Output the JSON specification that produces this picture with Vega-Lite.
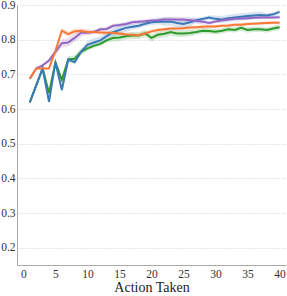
{
  "$schema": "https://vega.github.io/schema/vega-lite/v6.json",
  "width": 269,
  "height": 260,
  "autosize": {"type": "none"},
  "padding": {"left": 17, "top": 5, "right": 1, "bottom": 31},
  "background": "white",
  "config": {
    "view": {"stroke": null},
    "font": "Liberation Serif",
    "axis": {"labelFont": "Liberation Serif", "titleFont": "Liberation Serif", "labelColor": "#333", "titleColor": "#222", "domainColor": "#aaa", "ticks": false, "labelFontSize": 11.5, "labelOverlap": false, "labelBound": false, "labelFlush": false}
  },
  "data": {"values": [
    {"x":1,"s":"a","v":0.619,"lo":0.615,"hi":0.623},{"x":2,"s":"a","v":0.668,"lo":0.664,"hi":0.672},{"x":3,"s":"a","v":0.717,"lo":0.713,"hi":0.721},{"x":4,"s":"a","v":0.646,"lo":0.642,"hi":0.650},{"x":5,"s":"a","v":0.735,"lo":0.731,"hi":0.739},{"x":6,"s":"a","v":0.684,"lo":0.680,"hi":0.688},{"x":7,"s":"a","v":0.743,"lo":0.733,"hi":0.753},{"x":8,"s":"a","v":0.745,"lo":0.735,"hi":0.755},{"x":9,"s":"a","v":0.765,"lo":0.755,"hi":0.775},{"x":10,"s":"a","v":0.775,"lo":0.769,"hi":0.781},
    {"x":11,"s":"a","v":0.782,"lo":0.776,"hi":0.788},{"x":12,"s":"a","v":0.788,"lo":0.782,"hi":0.794},{"x":13,"s":"a","v":0.798,"lo":0.792,"hi":0.804},{"x":14,"s":"a","v":0.805,"lo":0.795,"hi":0.815},{"x":15,"s":"a","v":0.806,"lo":0.796,"hi":0.816},{"x":16,"s":"a","v":0.810,"lo":0.800,"hi":0.820},{"x":17,"s":"a","v":0.812,"lo":0.802,"hi":0.822},{"x":18,"s":"a","v":0.812,"lo":0.802,"hi":0.822},{"x":19,"s":"a","v":0.818,"lo":0.808,"hi":0.828},{"x":20,"s":"a","v":0.805,"lo":0.795,"hi":0.815},
    {"x":21,"s":"a","v":0.814,"lo":0.804,"hi":0.824},{"x":22,"s":"a","v":0.817,"lo":0.807,"hi":0.827},{"x":23,"s":"a","v":0.822,"lo":0.812,"hi":0.832},{"x":24,"s":"a","v":0.818,"lo":0.808,"hi":0.828},{"x":25,"s":"a","v":0.818,"lo":0.808,"hi":0.828},{"x":26,"s":"a","v":0.819,"lo":0.809,"hi":0.829},{"x":27,"s":"a","v":0.822,"lo":0.814,"hi":0.830},{"x":28,"s":"a","v":0.826,"lo":0.818,"hi":0.834},{"x":29,"s":"a","v":0.825,"lo":0.817,"hi":0.833},{"x":30,"s":"a","v":0.823,"lo":0.815,"hi":0.831},
    {"x":31,"s":"a","v":0.826,"lo":0.818,"hi":0.834},{"x":32,"s":"a","v":0.830,"lo":0.822,"hi":0.838},{"x":33,"s":"a","v":0.828,"lo":0.820,"hi":0.836},{"x":34,"s":"a","v":0.834,"lo":0.826,"hi":0.842},{"x":35,"s":"a","v":0.828,"lo":0.820,"hi":0.836},{"x":36,"s":"a","v":0.830,"lo":0.822,"hi":0.838},{"x":37,"s":"a","v":0.830,"lo":0.822,"hi":0.838},{"x":38,"s":"a","v":0.828,"lo":0.820,"hi":0.836},{"x":39,"s":"a","v":0.832,"lo":0.824,"hi":0.840},{"x":40,"s":"a","v":0.836,"lo":0.828,"hi":0.844},
    {"x":1,"s":"b","v":0.619,"lo":0.616,"hi":0.622},{"x":2,"s":"b","v":0.668,"lo":0.665,"hi":0.671},{"x":3,"s":"b","v":0.717,"lo":0.714,"hi":0.720},{"x":4,"s":"b","v":0.621,"lo":0.618,"hi":0.624},{"x":5,"s":"b","v":0.735,"lo":0.729,"hi":0.741},{"x":6,"s":"b","v":0.655,"lo":0.649,"hi":0.661},{"x":7,"s":"b","v":0.743,"lo":0.737,"hi":0.749},{"x":8,"s":"b","v":0.735,"lo":0.729,"hi":0.741},{"x":9,"s":"b","v":0.765,"lo":0.759,"hi":0.771},{"x":10,"s":"b","v":0.785,"lo":0.773,"hi":0.797},
    {"x":11,"s":"b","v":0.792,"lo":0.780,"hi":0.804},{"x":12,"s":"b","v":0.798,"lo":0.786,"hi":0.810},{"x":13,"s":"b","v":0.810,"lo":0.798,"hi":0.822},{"x":14,"s":"b","v":0.822,"lo":0.810,"hi":0.834},{"x":15,"s":"b","v":0.828,"lo":0.816,"hi":0.840},{"x":16,"s":"b","v":0.834,"lo":0.822,"hi":0.846},{"x":17,"s":"b","v":0.837,"lo":0.829,"hi":0.845},{"x":18,"s":"b","v":0.840,"lo":0.832,"hi":0.848},{"x":19,"s":"b","v":0.846,"lo":0.838,"hi":0.854},{"x":20,"s":"b","v":0.850,"lo":0.842,"hi":0.858},
    {"x":21,"s":"b","v":0.852,"lo":0.844,"hi":0.860},{"x":22,"s":"b","v":0.852,"lo":0.840,"hi":0.864},{"x":23,"s":"b","v":0.852,"lo":0.840,"hi":0.864},{"x":24,"s":"b","v":0.848,"lo":0.836,"hi":0.860},{"x":25,"s":"b","v":0.845,"lo":0.833,"hi":0.857},{"x":26,"s":"b","v":0.850,"lo":0.838,"hi":0.862},{"x":27,"s":"b","v":0.856,"lo":0.850,"hi":0.862},{"x":28,"s":"b","v":0.860,"lo":0.854,"hi":0.866},{"x":29,"s":"b","v":0.864,"lo":0.858,"hi":0.870},{"x":30,"s":"b","v":0.860,"lo":0.850,"hi":0.870},
    {"x":31,"s":"b","v":0.858,"lo":0.848,"hi":0.868},{"x":32,"s":"b","v":0.862,"lo":0.852,"hi":0.872},{"x":33,"s":"b","v":0.864,"lo":0.854,"hi":0.874},{"x":34,"s":"b","v":0.866,"lo":0.856,"hi":0.876},{"x":35,"s":"b","v":0.868,"lo":0.858,"hi":0.878},{"x":36,"s":"b","v":0.870,"lo":0.860,"hi":0.880},{"x":37,"s":"b","v":0.871,"lo":0.861,"hi":0.881},{"x":38,"s":"b","v":0.870,"lo":0.864,"hi":0.876},{"x":39,"s":"b","v":0.873,"lo":0.867,"hi":0.879},{"x":40,"s":"b","v":0.880,"lo":0.874,"hi":0.886},
    {"x":1,"s":"c","v":0.687,"lo":0.683,"hi":0.691},{"x":2,"s":"c","v":0.717,"lo":0.713,"hi":0.721},{"x":3,"s":"c","v":0.726,"lo":0.722,"hi":0.730},{"x":4,"s":"c","v":0.740,"lo":0.736,"hi":0.744},{"x":5,"s":"c","v":0.765,"lo":0.753,"hi":0.777},{"x":6,"s":"c","v":0.790,"lo":0.778,"hi":0.802},{"x":7,"s":"c","v":0.792,"lo":0.780,"hi":0.804},{"x":8,"s":"c","v":0.805,"lo":0.793,"hi":0.817},{"x":9,"s":"c","v":0.820,"lo":0.808,"hi":0.832},{"x":10,"s":"c","v":0.820,"lo":0.814,"hi":0.826},
    {"x":11,"s":"c","v":0.822,"lo":0.816,"hi":0.828},{"x":12,"s":"c","v":0.830,"lo":0.824,"hi":0.836},{"x":13,"s":"c","v":0.831,"lo":0.825,"hi":0.837},{"x":14,"s":"c","v":0.840,"lo":0.834,"hi":0.846},{"x":15,"s":"c","v":0.842,"lo":0.836,"hi":0.848},{"x":16,"s":"c","v":0.845,"lo":0.839,"hi":0.851},{"x":17,"s":"c","v":0.850,"lo":0.844,"hi":0.856},{"x":18,"s":"c","v":0.852,"lo":0.846,"hi":0.858},{"x":19,"s":"c","v":0.853,"lo":0.847,"hi":0.859},{"x":20,"s":"c","v":0.855,"lo":0.849,"hi":0.861},
    {"x":21,"s":"c","v":0.856,"lo":0.848,"hi":0.864},{"x":22,"s":"c","v":0.858,"lo":0.850,"hi":0.866},{"x":23,"s":"c","v":0.858,"lo":0.850,"hi":0.866},{"x":24,"s":"c","v":0.858,"lo":0.850,"hi":0.866},{"x":25,"s":"c","v":0.858,"lo":0.850,"hi":0.866},{"x":26,"s":"c","v":0.856,"lo":0.848,"hi":0.864},{"x":27,"s":"c","v":0.854,"lo":0.846,"hi":0.862},{"x":28,"s":"c","v":0.852,"lo":0.844,"hi":0.860},{"x":29,"s":"c","v":0.848,"lo":0.843,"hi":0.853},{"x":30,"s":"c","v":0.852,"lo":0.847,"hi":0.857},
    {"x":31,"s":"c","v":0.856,"lo":0.851,"hi":0.861},{"x":32,"s":"c","v":0.858,"lo":0.853,"hi":0.863},{"x":33,"s":"c","v":0.860,"lo":0.855,"hi":0.865},{"x":34,"s":"c","v":0.861,"lo":0.856,"hi":0.866},{"x":35,"s":"c","v":0.862,"lo":0.857,"hi":0.867},{"x":36,"s":"c","v":0.863,"lo":0.858,"hi":0.868},{"x":37,"s":"c","v":0.864,"lo":0.859,"hi":0.869},{"x":38,"s":"c","v":0.864,"lo":0.859,"hi":0.869},{"x":39,"s":"c","v":0.864,"lo":0.859,"hi":0.869},{"x":40,"s":"c","v":0.865,"lo":0.860,"hi":0.870},
    {"x":1,"s":"d","v":0.687,"lo":0.684,"hi":0.690},{"x":2,"s":"d","v":0.717,"lo":0.714,"hi":0.720},{"x":3,"s":"d","v":0.717,"lo":0.714,"hi":0.720},{"x":4,"s":"d","v":0.717,"lo":0.714,"hi":0.720},{"x":5,"s":"d","v":0.768,"lo":0.765,"hi":0.771},{"x":6,"s":"d","v":0.826,"lo":0.818,"hi":0.834},{"x":7,"s":"d","v":0.816,"lo":0.808,"hi":0.824},{"x":8,"s":"d","v":0.824,"lo":0.816,"hi":0.832},{"x":9,"s":"d","v":0.825,"lo":0.817,"hi":0.833},{"x":10,"s":"d","v":0.822,"lo":0.814,"hi":0.830},
    {"x":11,"s":"d","v":0.822,"lo":0.816,"hi":0.828},{"x":12,"s":"d","v":0.821,"lo":0.815,"hi":0.827},{"x":13,"s":"d","v":0.820,"lo":0.814,"hi":0.826},{"x":14,"s":"d","v":0.820,"lo":0.814,"hi":0.826},{"x":15,"s":"d","v":0.818,"lo":0.812,"hi":0.824},{"x":16,"s":"d","v":0.815,"lo":0.809,"hi":0.821},{"x":17,"s":"d","v":0.814,"lo":0.808,"hi":0.820},{"x":18,"s":"d","v":0.813,"lo":0.807,"hi":0.819},{"x":19,"s":"d","v":0.818,"lo":0.812,"hi":0.824},{"x":20,"s":"d","v":0.824,"lo":0.818,"hi":0.830},
    {"x":21,"s":"d","v":0.828,"lo":0.823,"hi":0.833},{"x":22,"s":"d","v":0.830,"lo":0.825,"hi":0.835},{"x":23,"s":"d","v":0.832,"lo":0.827,"hi":0.837},{"x":24,"s":"d","v":0.832,"lo":0.827,"hi":0.837},{"x":25,"s":"d","v":0.833,"lo":0.828,"hi":0.838},{"x":26,"s":"d","v":0.835,"lo":0.830,"hi":0.840},{"x":27,"s":"d","v":0.836,"lo":0.831,"hi":0.841},{"x":28,"s":"d","v":0.837,"lo":0.832,"hi":0.842},{"x":29,"s":"d","v":0.838,"lo":0.833,"hi":0.843},{"x":30,"s":"d","v":0.838,"lo":0.833,"hi":0.843},
    {"x":31,"s":"d","v":0.840,"lo":0.835,"hi":0.845},{"x":32,"s":"d","v":0.841,"lo":0.836,"hi":0.846},{"x":33,"s":"d","v":0.843,"lo":0.838,"hi":0.848},{"x":34,"s":"d","v":0.843,"lo":0.838,"hi":0.848},{"x":35,"s":"d","v":0.845,"lo":0.840,"hi":0.850},{"x":36,"s":"d","v":0.846,"lo":0.841,"hi":0.851},{"x":37,"s":"d","v":0.847,"lo":0.842,"hi":0.852},{"x":38,"s":"d","v":0.848,"lo":0.843,"hi":0.853},{"x":39,"s":"d","v":0.849,"lo":0.844,"hi":0.854},{"x":40,"s":"d","v":0.849,"lo":0.844,"hi":0.854}
  ]},
  "encoding": {
    "x": {"field": "x", "type": "quantitative", "scale": {"domain": [-1, 41], "nice": false},
      "axis": {"values": [0,5,10,15,20,25,30,35,40], "grid": false, "title": "Action Taken", "titleFontSize": 14, "titleFontWeight": "normal", "titlePadding": 1, "labelPadding": 3}},
    "color": {"field": "s", "type": "nominal", "legend": null,
      "scale": {"domain": ["a","b","c","d"], "range": ["#2d9a2d", "#3a79b6", "#9466c4", "#f6793a"]}}
  },
  "layer": [
    {"mark": {"type": "area", "opacity": 0.2},
     "encoding": {
       "y": {"field": "lo", "type": "quantitative", "scale": {"domain": [0.15, 0.9], "nice": false},
         "axis": {"values": [0.2,0.3,0.4,0.5,0.6,0.7,0.8,0.9], "format": ".1f", "title": null, "grid": true, "gridDash": [1,2], "gridColor": "#ccc", "labelPadding": 2, "labelOverlap": false}},
       "y2": {"field": "hi"}}},
    {"mark": {"type": "line", "strokeWidth": 2},
     "encoding": {"y": {"field": "v", "type": "quantitative", "scale": {"domain": [0.15, 0.9], "nice": false},
         "axis": {"values": [0.2,0.3,0.4,0.5,0.6,0.7,0.8,0.9], "format": ".1f", "title": null, "grid": true, "gridDash": [1,2], "gridColor": "#ccc", "labelPadding": 2, "labelOverlap": false}}}}
  ]
}
